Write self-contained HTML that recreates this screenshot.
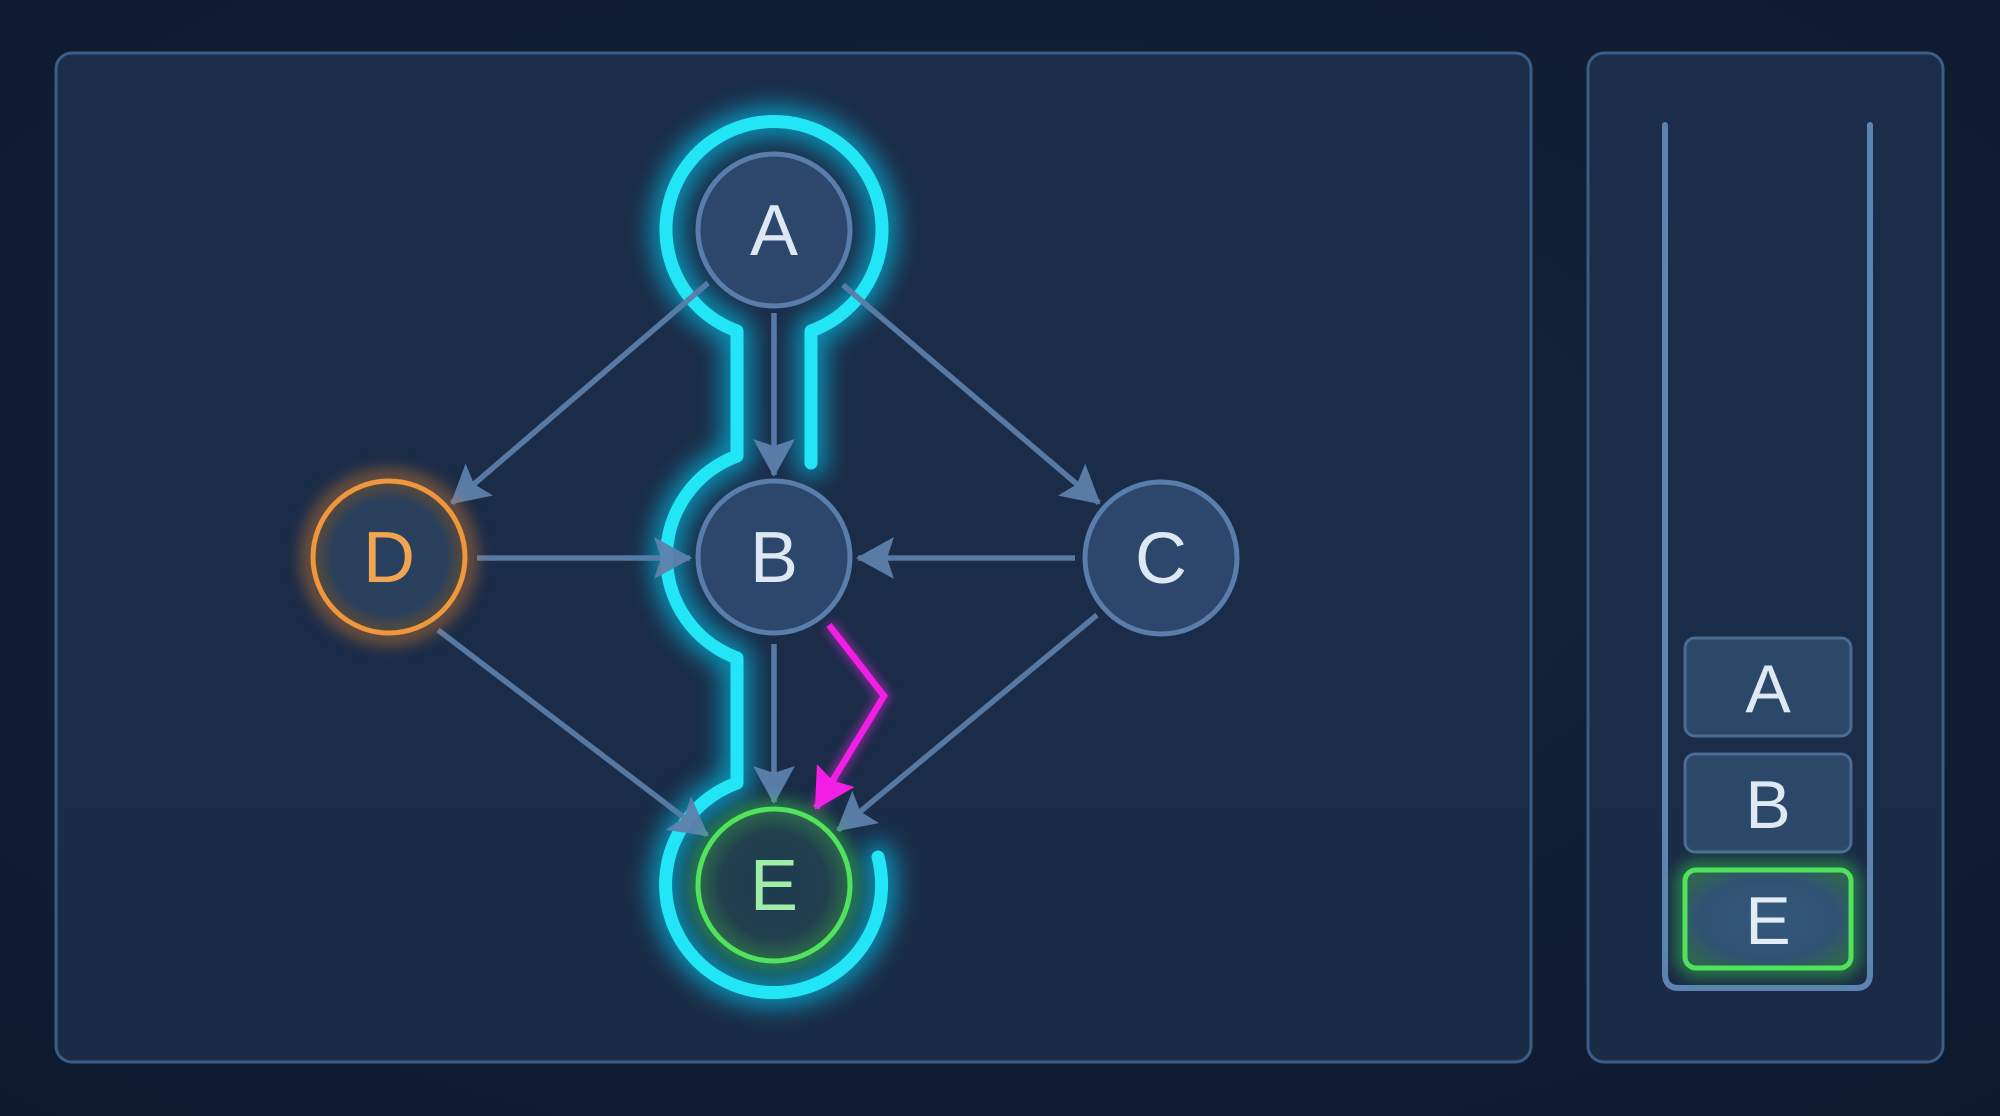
<!DOCTYPE html>
<html>
<head>
<meta charset="utf-8">
<style>
html,body{margin:0;padding:0;background:#0f1c32;}
svg{display:block;}
text{font-family:"Liberation Sans",sans-serif;}
</style>
</head>
<body>
<svg width="2000" height="1116" viewBox="0 0 2000 1116" xmlns="http://www.w3.org/2000/svg">
<defs>
  <radialGradient id="bgG" cx="50%" cy="45%" r="75%">
    <stop offset="0" stop-color="#15253f"/>
    <stop offset="1" stop-color="#0d192d"/>
  </radialGradient>
  <linearGradient id="panelG" x1="0" y1="0" x2="0" y2="1">
    <stop offset="0" stop-color="#1b2d4a"/>
    <stop offset="1" stop-color="#1a2b46"/>
  </linearGradient>
  <filter id="blur8" x="-30%" y="-30%" width="160%" height="160%"><feGaussianBlur stdDeviation="8"/></filter>
  <filter id="blur5" x="-30%" y="-30%" width="160%" height="160%"><feGaussianBlur stdDeviation="5"/></filter>
  <filter id="blur12" x="-40%" y="-40%" width="180%" height="180%"><feGaussianBlur stdDeviation="12"/></filter>
  <radialGradient id="eFill" cx="50%" cy="50%" r="50%">
    <stop offset="0" stop-color="#1f3a4e"/>
    <stop offset="0.7" stop-color="#21404e"/>
    <stop offset="1" stop-color="#2c6a4a"/>
  </radialGradient>
  <radialGradient id="dFill" cx="50%" cy="50%" r="50%">
    <stop offset="0" stop-color="#28405f"/>
    <stop offset="0.75" stop-color="#2a405c"/>
    <stop offset="1" stop-color="#5a4a3a"/>
  </radialGradient>
  <radialGradient id="eBoxFill" cx="50%" cy="50%" r="60%">
    <stop offset="0" stop-color="#34587c"/>
    <stop offset="0.7" stop-color="#305272"/>
    <stop offset="1" stop-color="#2f6650"/>
  </radialGradient>
  <marker id="ah" viewBox="0 0 38 42" refX="36" refY="21" markerWidth="38" markerHeight="42" markerUnits="userSpaceOnUse" orient="auto">
    <path d="M0,0 L38,21 L0,42 L7,21 z" fill="#5d81ad"/>
  </marker>
  <marker id="ahm" viewBox="0 0 40 44" refX="38" refY="22" markerWidth="40" markerHeight="44" markerUnits="userSpaceOnUse" orient="auto">
    <path d="M0,0 L40,22 L0,44 L6,22 z" fill="#f21ee6"/>
  </marker>
</defs>

<rect x="0" y="0" width="2000" height="1116" fill="url(#bgG)"/>

<!-- panels -->
<rect x="56" y="53" width="1475" height="1009" rx="16" fill="url(#panelG)" stroke="#3c5d85" stroke-width="3"/>
<rect x="1588" y="53" width="355" height="1009" rx="16" fill="url(#panelG)" stroke="#3c5d85" stroke-width="3"/>

<!-- cyan highlighted path glow -->
<path d="M 811 463 L 811 331 A 108 108 0 1 0 737 331 L 737 456 A 107.6 107.6 0 0 0 737 658 L 737 783 A 108 108 0 1 0 878 857"
      fill="none" stroke="#00d8ff" stroke-width="30" stroke-linecap="round" stroke-linejoin="round" opacity="0.6" filter="url(#blur12)"/>
<path d="M 811 463 L 811 331 A 108 108 0 1 0 737 331 L 737 456 A 107.6 107.6 0 0 0 737 658 L 737 783 A 108 108 0 1 0 878 857"
      fill="none" stroke="#22e6f5" stroke-width="13" stroke-linecap="round" stroke-linejoin="round"/>

<!-- edges -->
<g stroke="#5a7eaa" stroke-width="5.5" fill="none" stroke-linecap="butt" opacity="0.95">
  <line x1="708" y1="283" x2="452" y2="503" marker-end="url(#ah)"/>
  <line x1="843" y1="285" x2="1099" y2="503" marker-end="url(#ah)"/>
  <line x1="774" y1="313" x2="774" y2="475" marker-end="url(#ah)"/>
  <line x1="477" y1="558" x2="690" y2="558" marker-end="url(#ah)"/>
  <line x1="1075" y1="558" x2="858" y2="558" marker-end="url(#ah)"/>
  <line x1="438" y1="630" x2="707" y2="835" marker-end="url(#ah)"/>
  <line x1="774" y1="644" x2="774" y2="802" marker-end="url(#ah)"/>
  <line x1="1097" y1="615" x2="838" y2="830" marker-end="url(#ah)"/>
</g>

<!-- magenta path -->
<polyline points="829,625 884,696 816,808" fill="none" stroke="#ff2af0" stroke-width="12" opacity="0.45" filter="url(#blur5)"/>
<polyline points="829,625 884,696 816,808" fill="none" stroke="#f21ee6" stroke-width="6.5" stroke-linejoin="miter" marker-end="url(#ahm)"/>

<!-- nodes -->
<g>
  <circle cx="774" cy="230" r="76" fill="#2c476b" stroke="#5a7eab" stroke-width="5"/>
  <text x="774" y="255" font-size="72" fill="#dde8f4" text-anchor="middle">A</text>

  <circle cx="774" cy="557" r="76" fill="#2c476b" stroke="#5a7eab" stroke-width="5"/>
  <text x="774" y="582" font-size="72" fill="#dde8f4" text-anchor="middle">B</text>

  <circle cx="1161" cy="558" r="76" fill="#2c476b" stroke="#5a7eab" stroke-width="5"/>
  <text x="1161" y="583" font-size="72" fill="#dde8f4" text-anchor="middle">C</text>

  <!-- D orange -->
  <circle cx="389" cy="557" r="80" fill="none" stroke="#f08a2a" stroke-width="14" opacity="0.5" filter="url(#blur8)"/>
  <circle cx="389" cy="557" r="76" fill="url(#dFill)" stroke="#f0963c" stroke-width="5"/>
  <text x="389" y="582" font-size="72" fill="#f0a550" text-anchor="middle">D</text>

  <!-- E green -->
  <circle cx="774" cy="885" r="76" fill="none" stroke="#3ee84e" stroke-width="16" opacity="0.5" filter="url(#blur8)"/>
  <circle cx="774" cy="885" r="76" fill="url(#eFill)" stroke="#52e35e" stroke-width="5"/>
  <text x="774" y="910" font-size="72" fill="#9eeeaa" text-anchor="middle">E</text>
</g>

<!-- right panel: stack tube -->
<path d="M1665 125 L1665 974 Q1665 988 1679 988 L1856 988 Q1870 988 1870 974 L1870 125"
      fill="none" stroke="#5d83b2" stroke-width="6" stroke-linecap="round"/>

<!-- stack boxes -->
<rect x="1685" y="638" width="166" height="98" rx="10" fill="#2c4869" stroke="#4a6b93" stroke-width="3"/>
<text x="1768" y="712" font-size="68" fill="#dfe9f4" text-anchor="middle">A</text>

<rect x="1685" y="754" width="166" height="98" rx="10" fill="#2c4869" stroke="#4a6b93" stroke-width="3"/>
<text x="1768" y="828" font-size="68" fill="#dfe9f4" text-anchor="middle">B</text>

<rect x="1685" y="870" width="166" height="98" rx="11" fill="none" stroke="#3ee84e" stroke-width="16" opacity="0.5" filter="url(#blur8)"/>
<rect x="1685" y="870" width="166" height="98" rx="11" fill="url(#eBoxFill)" stroke="#4fe35b" stroke-width="5"/>
<text x="1768" y="944" font-size="68" fill="#e2ecf6" text-anchor="middle">E</text>
</svg>
</body>
</html>
